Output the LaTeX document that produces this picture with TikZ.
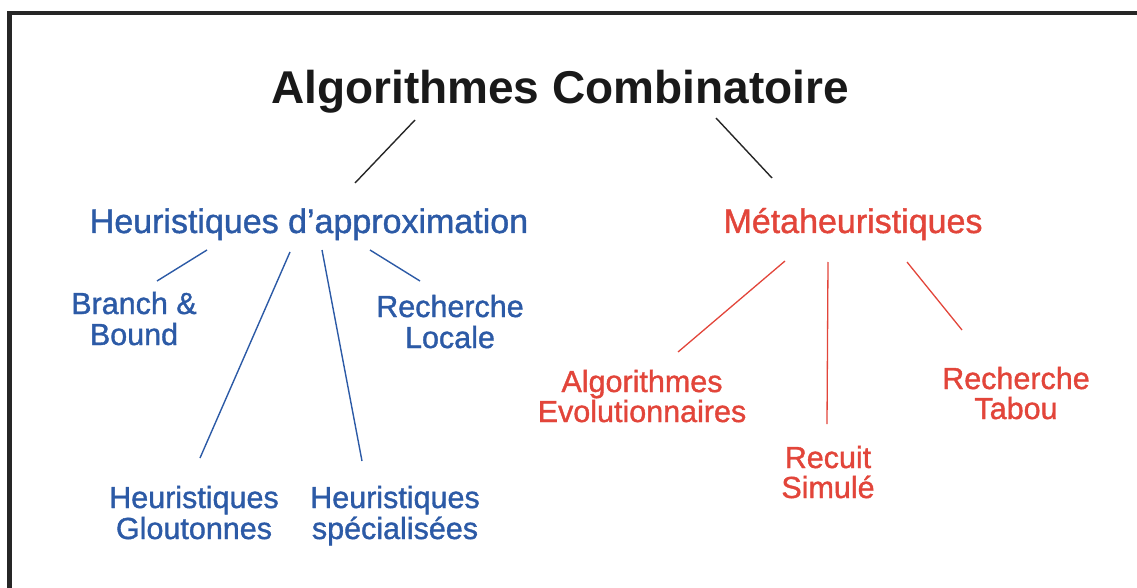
\documentclass[tikz,border=0pt]{standalone}
\usepackage{fontspec}
\setmainfont{Liberation Sans}
\newfontfamily\heavysans[FakeBold=1.2]{Liberation Sans}
\definecolor{hblue}{HTML}{2C5AA6}
\definecolor{mred}{HTML}{E2453A}
\definecolor{frame}{HTML}{262626}
\begin{document}
\begin{tikzpicture}[x=1pt,y=-1pt,
  titlestyle/.style={anchor=base,inner sep=0pt,font=\fontsize{46}{48}\selectfont\bfseries,text=black!90},
  headblue/.style={anchor=base,inner sep=0pt,font=\heavysans\fontsize{34}{36}\selectfont,text=hblue},
  headred/.style={anchor=base,inner sep=0pt,font=\heavysans\fontsize{34}{36}\selectfont,text=mred},
  leafblue/.style={anchor=base,inner sep=0pt,align=center,font=\heavysans\fontsize{30.5}{31}\selectfont,text=hblue},
  leafred/.style={anchor=base,inner sep=0pt,align=center,font=\heavysans\fontsize{30.5}{30}\selectfont,text=mred},
  blk/.style={draw=black!85,line width=1.4pt},
  blu/.style={draw=hblue,line width=1.4pt},
  rdl/.style={draw=mred,line width=1.3pt}]
\useasboundingbox (0,0) rectangle (1137,588);
\clip (0,0) rectangle (1137,588);
\draw[line width=4.5pt,draw=frame] (1160,13) -- (9.5,13) -- (9.5,610);

\node[titlestyle] (title) at (560,104) {Algorithmes Combinatoire};
\node[headblue] (heur) at (309,233) {Heuristiques d’approximation};
\node[headred] (meta) at (853,233) {Métaheuristiques};

\node[leafblue] (bb) at (134,345) {Branch \&\\Bound};
\node[leafblue] (rl) at (450,348) {Recherche\\Locale};
\node[leafblue] (hg) at (194,539) {Heuristiques\\Gloutonnes};
\node[leafblue] (hs) at (395,539) {Heuristiques\\spécialisées};
\node[leafred] (ae) at (642,422) {Algorithmes\\Evolutionnaires};
\node[leafred] (rs) at (828,498) {Recuit\\Simulé};
\node[leafred] (rt) at (1016,419) {Recherche\\Tabou};

\coordinate (t1) at (415,120); \coordinate (h0) at (355,183);
\coordinate (t2) at (716,118); \coordinate (m0) at (772,178);
\coordinate (h1) at (207,250); \coordinate (bb0) at (157,281);
\coordinate (h2) at (290,252); \coordinate (hg0) at (200,458);
\coordinate (h3) at (322,250); \coordinate (hs0) at (362,461);
\coordinate (h4) at (370,250); \coordinate (rl0) at (420,281);
\coordinate (m1) at (785,261); \coordinate (ae0) at (678,352);
\coordinate (m2) at (828,262); \coordinate (rs0) at (827,424);
\coordinate (m3) at (907,262); \coordinate (rt0) at (962,330);

\draw[blk] (t1) -- (h0);
\draw[blk] (t2) -- (m0);
\draw[blu] (h1) -- (bb0);
\draw[blu] (h2) -- (hg0);
\draw[blu] (h3) -- (hs0);
\draw[blu] (h4) -- (rl0);
\draw[rdl] (m1) -- (ae0);
\draw[rdl] (m2) -- (rs0);
\draw[rdl] (m3) -- (rt0);
\end{tikzpicture}
\end{document}
